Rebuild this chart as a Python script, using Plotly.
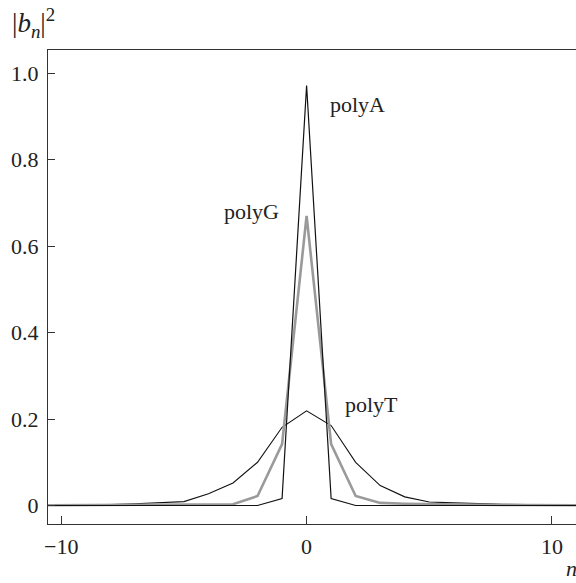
import plotly.graph_objects as go

n = list(range(-11, 12))
polyA = [0.0, 0.0, 0.0, 0.0, 0.0, 0.0, 0.0, 0.0, 0.0, 0.0, 0.016, 0.972,
         0.016, 0.0, 0.0, 0.0, 0.0, 0.0, 0.0, 0.0, 0.0, 0.0, 0.0]
polyG = [0.0005, 0.0008, 0.001, 0.001, 0.0015, 0.002, 0.002, 0.003, 0.003, 0.022, 0.142, 0.670,
         0.142, 0.022, 0.006, 0.004, 0.003, 0.002, 0.0015, 0.001, 0.001, 0.0008, 0.0005]
polyT = [0.0003, 0.0005, 0.001, 0.002, 0.004, 0.006, 0.009, 0.027, 0.052, 0.100, 0.181, 0.219,
         0.185, 0.100, 0.046, 0.020, 0.008, 0.006, 0.004, 0.003, 0.002, 0.001, 0.0005]
labels = {"polyA": (2.06, 0.927), "polyG": (-2.26, 0.68), "polyT": (2.63, 0.233)}
ytick_vals = [0, 0.2, 0.4, 0.6, 0.8, 1.0]
ytick_text = ["0", "0.2", "0.4", "0.6", "0.8", "1.0"]
xtick_vals = [-10, 0, 10]
xtick_text = ["\u221210", "0", "10"]

FONT = "Liberation Serif"
fig = go.Figure()
fig.add_trace(go.Scatter(x=n, y=polyT, mode="lines", line=dict(color="#111111", width=1.1), name="polyT"))
fig.add_trace(go.Scatter(x=n, y=polyG, mode="lines", line=dict(color="#9a9a9a", width=2.6), name="polyG"))
fig.add_trace(go.Scatter(x=n, y=polyA, mode="lines", line=dict(color="#111111", width=1.2), name="polyA"))

for k, (xx, yy) in labels.items():
    fig.add_annotation(x=xx, y=yy, text=k, showarrow=False, xref="x", yref="y",
                       font=dict(family=FONT, size=22, color="#222222"))

fig.add_annotation(x=0.0, y=1.0, xref="paper", yref="paper", xanchor="left", yanchor="bottom",
                   xshift=-38, yshift=6,
                   text="|<i>b</i><sub><i>n</i></sub>|<sup>2</sup>", showarrow=False,
                   font=dict(family=FONT, size=27, color="#222222"))
fig.add_annotation(x=1.0, y=0.0, xref="paper", yref="paper", xanchor="left", yanchor="top",
                   xshift=-12, yshift=-30, text="<i>n</i>", showarrow=False,
                   font=dict(family=FONT, size=22, color="#222222"))

fig.update_layout(
    width=576, height=583,
    margin=dict(l=48, r=0, t=50, b=59),
    plot_bgcolor="white", paper_bgcolor="white",
    showlegend=False,
    font=dict(family=FONT, size=22, color="#222222"),
    xaxis=dict(range=[-10.54, 10.98], tickvals=xtick_vals, ticktext=xtick_text,
               ticks="inside", ticklen=8, tickwidth=1.2, tickcolor="#333333",
               showline=True, linecolor="#333333", linewidth=1.4, mirror=True,
               showgrid=False, zeroline=False, ticklabelstandoff=2, automargin=False),
    yaxis=dict(range=[-0.0428, 1.054], tickvals=ytick_vals, ticktext=ytick_text,
               ticks="inside", ticklen=7, tickwidth=1.2, tickcolor="#333333",
               showline=True, linecolor="#333333", linewidth=1.4, mirror=False,
               showgrid=False, zeroline=False, ticklabelstandoff=4, automargin=False),
)
fig.write_html("out.html", config={"displayModeBar": False},
               post_script="document.body.style.margin='0';")
